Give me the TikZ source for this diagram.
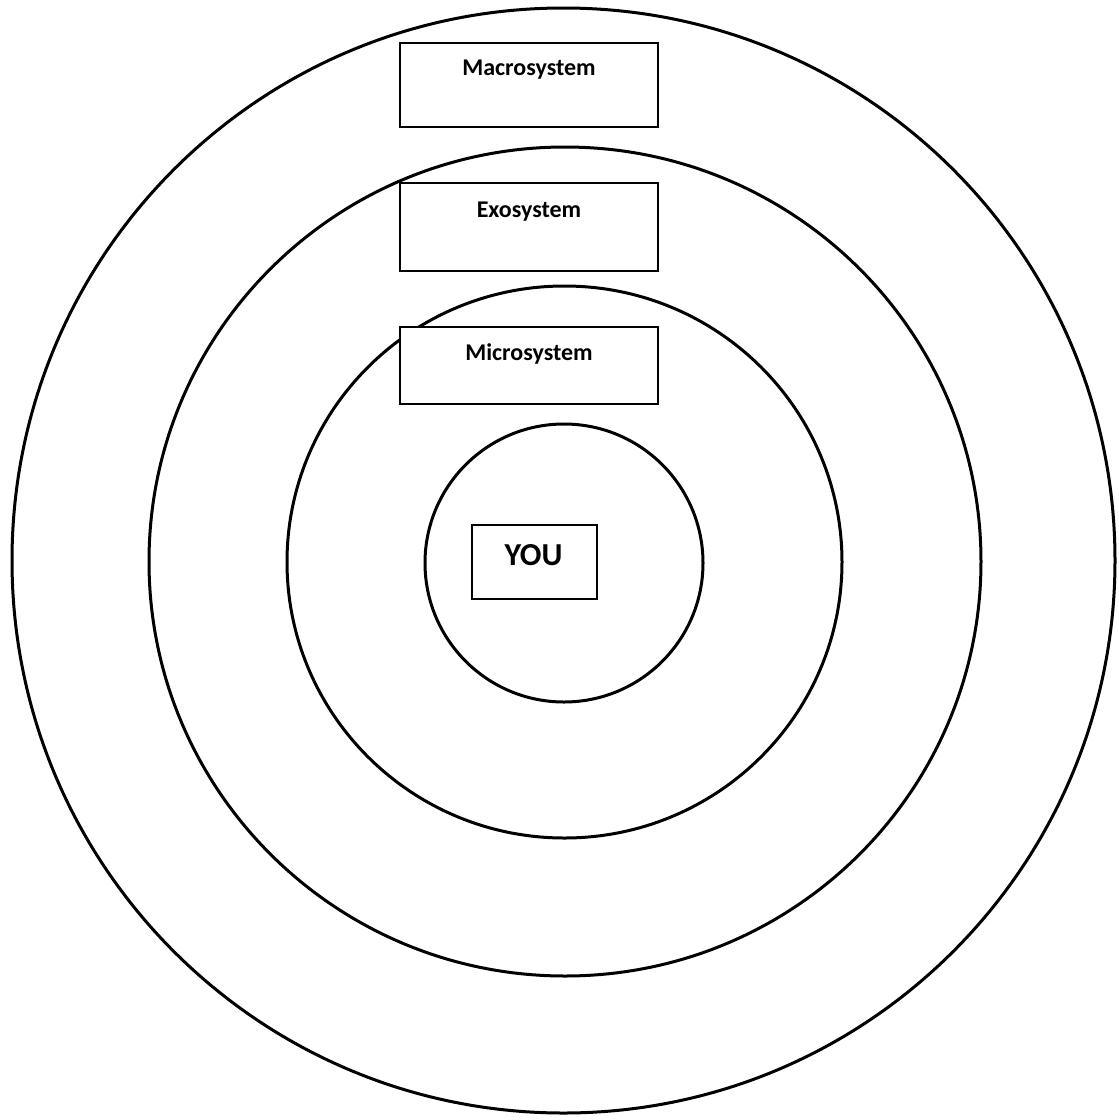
\documentclass[tikz,border=0pt]{standalone}
\usepackage{fontspec}
\setmainfont{Carlito}
\begin{document}
\begin{tikzpicture}[x=1pt,y=-1pt,
  ring/.style={draw=black,line width=3pt},
  sysbox/.style={draw=black,fill=white,line width=1.3pt},
  lab/.style={font=\fontsize{24}{28}\selectfont\bfseries,anchor=base,inner sep=0pt}]
\useasboundingbox (0,0) rectangle (1119,1120);
\draw[ring] (563.5,560.5) ellipse [x radius=551.5,y radius=552.5];
\draw[ring] (565,561.5) ellipse [x radius=416,y radius=414.5];
\draw[ring] (564.5,562) ellipse [x radius=277.5,y radius=276];
\draw[ring] (564,563) circle [radius=139];
\node[sysbox,minimum width=258pt,minimum height=84pt] (macro) at (529,85) {};
\node[sysbox,minimum width=258pt,minimum height=88pt] (exo) at (529,227) {};
\node[sysbox,minimum width=258pt,minimum height=77pt] (micro) at (529,365.5) {};
\node[sysbox,minimum width=125pt,minimum height=74pt] (you) at (534.5,562) {};
\node[lab] (tmacro) at (529,75.5) {Macrosystem};
\node[lab] (texo) at (529,217) {Exosystem};
\node[lab] (tmicro) at (529,360) {Microsystem};
\node[lab,font=\fontsize{32}{38}\selectfont\bfseries] (tyou) at (533.5,565.5) {YOU};
\end{tikzpicture}
\end{document}
